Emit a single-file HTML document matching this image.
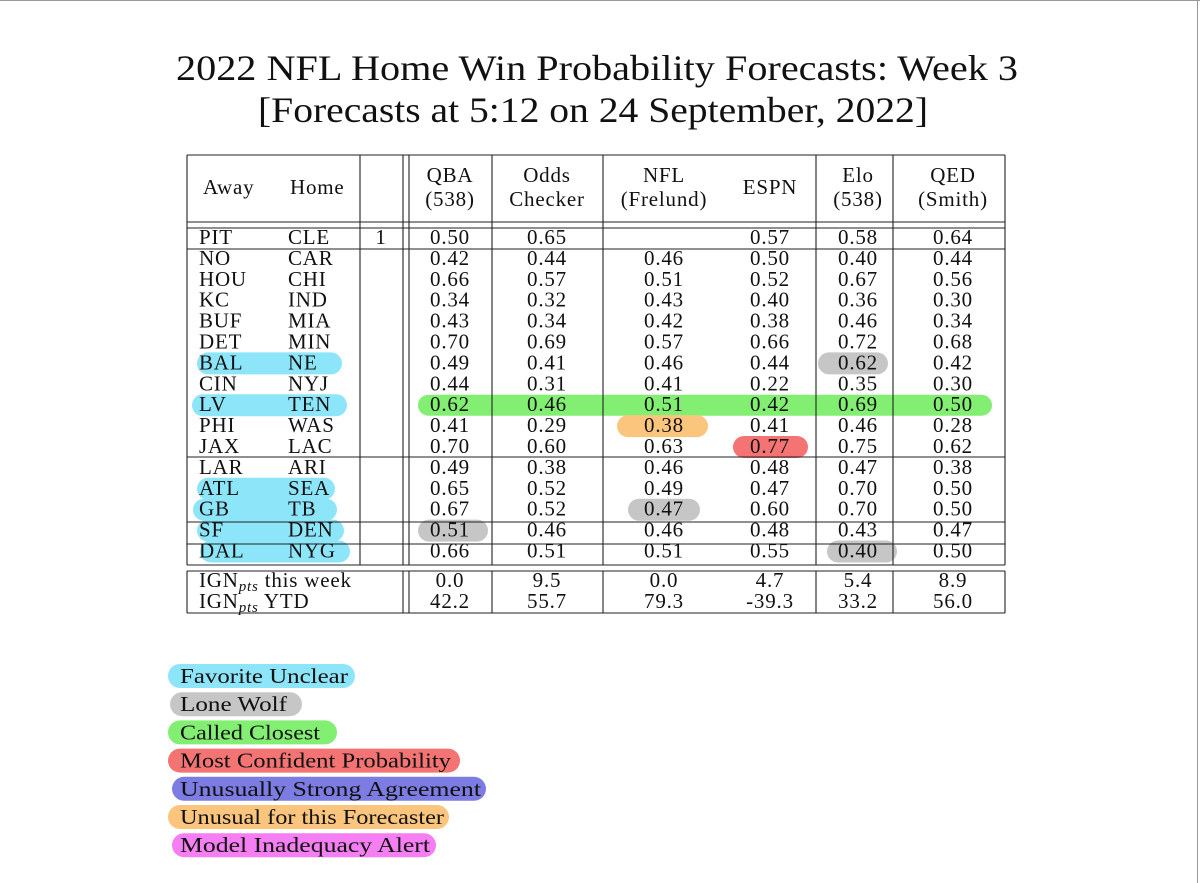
<!DOCTYPE html>
<html><head><meta charset="utf-8"><style>
html,body{margin:0;padding:0;background:#fff;}
#wrap{position:relative;width:1200px;height:883px;overflow:hidden;background:#fff;font-family:"Liberation Serif",serif;}
svg text{font-family:"Liberation Serif",serif;fill:#111;}
#txt text{letter-spacing:0.8px;}
</style></head><body>
<div id="wrap">
<svg id="svg" width="1200" height="883" viewBox="0 0 1200 883">
<line x1="0" y1="0.5" x2="1200" y2="0.5" stroke="#999" stroke-width="1"/>
<line x1="1197.5" y1="0" x2="1197.5" y2="883" stroke="#999" stroke-width="1"/>
<text x="176" y="80" font-size="36" textLength="842" lengthAdjust="spacingAndGlyphs">2022 NFL Home Win Probability Forecasts: Week 3</text>
<text x="258" y="122" font-size="36" textLength="670" lengthAdjust="spacingAndGlyphs">[Forecasts at 5:12 on 24 September, 2022]</text>
<g id="hl"></g>
<g id="grid"></g>
<g id="txt"></g>
<g id="legend"></g>
</svg>
</div>
<script>
const away=["PIT","NO","HOU","KC","BUF","DET","BAL","CIN","LV","PHI","JAX","LAR","ATL","GB","SF","DAL"];
const home=["CLE","CAR","CHI","IND","MIA","MIN","NE","NYJ","TEN","WAS","LAC","ARI","SEA","TB","DEN","NYG"];
const qba=["0.50","0.42","0.66","0.34","0.43","0.70","0.49","0.44","0.62","0.41","0.70","0.49","0.65","0.67","0.51","0.66"];
const odds=["0.65","0.44","0.57","0.32","0.34","0.69","0.41","0.31","0.46","0.29","0.60","0.38","0.52","0.52","0.46","0.51"];
const nfl=["","0.46","0.51","0.43","0.42","0.57","0.46","0.41","0.51","0.38","0.63","0.46","0.49","0.47","0.46","0.51"];
const espn=["0.57","0.50","0.52","0.40","0.38","0.66","0.44","0.22","0.42","0.41","0.77","0.48","0.47","0.60","0.48","0.55"];
const elo=["0.58","0.40","0.67","0.36","0.46","0.72","0.62","0.35","0.69","0.46","0.75","0.47","0.70","0.70","0.43","0.40"];
const qed=["0.64","0.44","0.56","0.30","0.34","0.68","0.42","0.30","0.50","0.28","0.62","0.38","0.50","0.50","0.47","0.50"];
const ignWeek=["0.0","9.5","0.0","4.7","5.4","8.9"];
const ignYtd=["42.2","55.7","79.3","-39.3","33.2","56.0"];
const legendLabels=["Favorite Unclear","Lone Wolf","Called Closest","Most Confident Probability","Unusually Strong Agreement","Unusual for this Forecaster","Model Inadequacy Alert"];

const NS="http://www.w3.org/2000/svg";
function mk(tag,attrs,parent){const e=document.createElementNS(NS,tag);for(const k in attrs)e.setAttribute(k,attrs[k]);parent.appendChild(e);return e;}
const rowY=i=>237+i*20.9;
const colX=[450,547,664,770,858,953];
const cols=[qba,odds,nfl,espn,elo,qed];
const colNames=["qba","odds","nfl","espn","elo","qed"];
const C={cyan:"#8ce5f8",gray:"#c6c6c6",green:"#82ef72",red:"#f47474",orange:"#fcc57e",purple:"#7c7ce2",pink:"#f47ef2"};
const hl=document.getElementById('hl'),grid=document.getElementById('grid'),txt=document.getElementById('txt'),leg=document.getElementById('legend');
function pill(x1,x2,y,h,color,name){const r=mk('rect',{x:x1,y:y-h/2,width:x2-x1,height:h,rx:h/2,fill:color},hl);

}
[[6,197,342],[8,192,347],[12,197,335],[13,193,337],[14,197,344],[15,200,350]].forEach(a=>pill(a[1],a[2],rowY(a[0])+1,22,C.cyan,'favorite-unclear-highlight'));
pill(418,992,rowY(8)+1,21,C.green,'called-closest-highlight');
pill(818,888,rowY(6)+1,22,C.gray,'lone-wolf-highlight');
pill(628,700,rowY(13)+1,22,C.gray,'lone-wolf-highlight');
pill(418,488,rowY(14)+1,22,C.gray,'lone-wolf-highlight');
pill(827,897,rowY(15)+1,22,C.gray,'lone-wolf-highlight');
pill(617,708,rowY(9)+1,22,C.orange,'unusual-forecaster-highlight');
pill(733,808,rowY(10)+1,22,C.red,'most-confident-highlight');
function hline(x1,x2,y){const l=mk('line',{x1:x1,x2:x2,y1:y,y2:y,stroke:"#222","stroke-width":1.1},grid);

}
function vline(x,y1,y2){const l=mk('line',{x1:x,x2:x,y1:y1,y2:y2,stroke:"#222","stroke-width":1.1},grid);

}
hline(187,1005,155);hline(187,1005,222);hline(187,1005,228);hline(187,1005,249);
hline(187,1005,457);hline(187,1005,522);hline(187,1005,544);hline(187,1005,565);
hline(187,1005,571);hline(187,1005,613);
vline(187,155,565);vline(187,571,613);
[360].forEach(x=>vline(x,155,565));
[403,409,1005].forEach(x=>{vline(x,155,565);vline(x,571,613);});
[492,603,816,893].forEach(x=>{vline(x,155,565);vline(x,571,613);});
function t(x,y,s,anchor,size,name){const e=mk('text',{x:x,y:y,"font-size":size||21,"text-anchor":anchor||"middle"},txt);e.textContent=s;

return e;}
t(203,194,"Away","start",21,'header-away');t(290,194,"Home","start",21,'header-home');
const h1=["QBA","Odds","NFL","","Elo","QED"],h2=["(538)","Checker","(Frelund)","","(538)","(Smith)"];
colX.forEach((x,i)=>{if(h1[i]){t(x,182,h1[i],"middle",21,'header-'+colNames[i]);t(x,206,h2[i],"middle",21,'header-'+colNames[i]+'-sub');}});
t(770,194,"ESPN","middle",21,'header-espn');
away.forEach((a,i)=>{const y=rowY(i)+7;
t(199,y,a,"start",21,'away-team');t(288,y,home[i],"start",21,'home-team');
cols.forEach((c,j)=>{if(c[i])t(colX[j],y,c[i],"middle",21,'prob-'+colNames[j]);});});
t(381,rowY(0)+7,"1","middle",21,'row-flag');
function ign(y,label,vals,nm){const e=mk('text',{x:199,y:y,"font-size":21,"text-anchor":"start"},txt);


e.innerHTML='IGN<tspan font-size="15" font-style="italic" dy="4">pts</tspan><tspan dy="-4"> '+label+'</tspan>';
vals.forEach((v,j)=>t(colX[j],y,v,"middle",21,nm+'-'+colNames[j]));}
ign(587,"this week",ignWeek,'ign-week');ign(608,"YTD",ignYtd,'ign-ytd');
const legColors=[C.cyan,C.gray,C.green,C.red,C.purple,C.orange,C.pink];
const legW=[187,132,169,292,314,281,264];
const legX=[168,170,168,168,172,168,172];
const legTL=[168,107,140,271,301,264,250];
legendLabels.forEach((s,i)=>{const y=676+i*28.2;
const r=mk('rect',{x:legX[i],y:y-12,width:legW[i],height:24,rx:12,fill:legColors[i]},leg);


const e=mk('text',{x:180,y:y+7,"font-size":21,"text-anchor":"start",textLength:legTL[i],lengthAdjust:"spacingAndGlyphs"},leg);e.textContent=s;

});
</script>
</body></html>
